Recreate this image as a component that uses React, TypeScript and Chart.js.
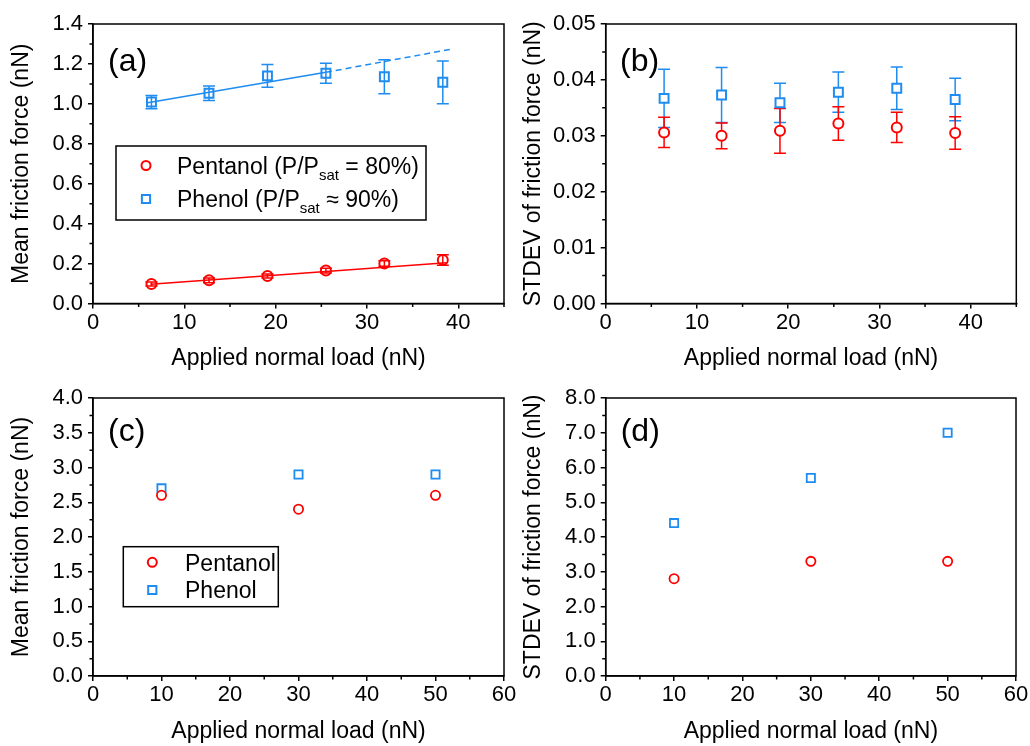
import React, { useEffect, useRef } from "react";
import { Chart, registerables } from "chart.js";

Chart.register(...registerables);

const FONT = '"Liberation Sans", Arial, Helvetica, sans-serif';
const RED = "#ff0000";
const BLUE = "#1e8cf0";

// ---------- Panel (a): mean friction force vs load ----------
const loadA = [6.4, 12.7, 19.1, 25.5, 31.9, 38.3];
const pentanolMeanA = [0.098, 0.116, 0.138, 0.165, 0.2, 0.218];
const pentanolMeanErrA = [0.01, 0.012, 0.01, 0.012, 0.014, 0.026];
const phenolMeanA = [1.009, 1.053, 1.14, 1.153, 1.136, 1.108];
const phenolMeanErrA = [0.033, 0.036, 0.057, 0.05, 0.085, 0.107];
const pentanolFitX = [6.3, 38.7];
const pentanolFitY = [0.096, 0.204];
const phenolFitX = [6.0, 25.5, 39.1];
const phenolFitY = [1.005, 1.158, 1.273];

// ---------- Panel (b): STDEV of friction force vs load ----------
const loadB = [6.4, 12.7, 19.1, 25.5, 31.9, 38.3];
const pentanolStdB = [0.0306, 0.03, 0.0309, 0.0322, 0.0315, 0.0305];
const pentanolStdErrB = [0.0027, 0.0023, 0.004, 0.003, 0.0027, 0.0029];
const phenolStdB = [0.0367, 0.0373, 0.0359, 0.0378, 0.0385, 0.0365];
const phenolStdErrB = [0.0052, 0.0049, 0.0035, 0.0036, 0.0038, 0.0038];

// ---------- Panels (c), (d) ----------
const loadCD = [10, 30, 50];
const pentanolMeanC = [2.6, 2.4, 2.6];
const phenolMeanC = [2.7, 2.9, 2.9];
const pentanolStdD = [2.8, 3.3, 3.3];
const phenolStdD = [4.4, 5.7, 7.0];

const xTitle = "Applied normal load (nN)";
const yTitleMean = "Mean friction force (nN)";
const yTitleStd = "STDEV of friction force (nN)";

type ErrSeries = { xs: number[]; ys: number[]; errs: number[]; color: string };
type LegendItem = { pre: string; sub?: string; post?: string; style: "circle" | "rect"; color: string };
type LegendSpec = {
  box: [number, number, number, number];
  markerX: number;
  textX: number;
  rows: number[];
  fontSize: number;
  items: LegendItem[];
};
type AxisSpec = { min: number; max: number; step: number; minor: number; decimals: number };
type PanelSpec = {
  id: string;
  label: string;
  labelX: number;
  labelBaseline: number;
  area: { left: number; top: number; right: number; bottom: number };
  regionLeft: number;
  regionBottom: number;
  x: AxisSpec;
  y: AxisSpec;
  yTitle: string;
  yTitleCenterX: number;
  datasets: any[];
  errors: ErrSeries[];
  legend?: LegendSpec;
};

const pts = (xs: number[], ys: number[]) => xs.map((x, i) => ({ x, y: ys[i] }));

function markerDs(xs: number[], ys: number[], style: "circle" | "rect", color: string, r: number, bw: number, fill: string) {
  return {
    data: pts(xs, ys),
    showLine: false,
    pointStyle: style,
    pointRadius: r,
    pointHoverRadius: r,
    pointBorderWidth: bw,
    pointBorderColor: color,
    pointBackgroundColor: fill,
    borderColor: color,
    backgroundColor: fill,
  };
}

function lineDs(xs: number[], ys: number[], color: string, dashFromIndex?: number) {
  return {
    data: pts(xs, ys),
    showLine: true,
    pointRadius: 0,
    pointHoverRadius: 0,
    borderColor: color,
    borderWidth: 1.5,
    tension: 0,
    segment:
      dashFromIndex === undefined
        ? undefined
        : { borderDash: (ctx: any) => (ctx.p0DataIndex >= dashFromIndex ? [6, 4] : undefined) },
  };
}

const specs: PanelSpec[] = [
  {
    id: "a",
    label: "(a)",
    labelX: 108,
    labelBaseline: 71,
    area: { left: 93, top: 24, right: 504, bottom: 303.5 },
    regionLeft: 0,
    regionBottom: 373,
    x: { min: 0, max: 45, step: 10, minor: 5, decimals: 0 },
    y: { min: 0, max: 1.4, step: 0.2, minor: 0.1, decimals: 1 },
    yTitle: yTitleMean,
    yTitleCenterX: 22,
    datasets: [
      markerDs(loadA, pentanolMeanA, "circle", RED, 5, 2, "rgba(0,0,0,0)"),
      markerDs(loadA, phenolMeanA, "rect", BLUE, 6.3, 2, "rgba(0,0,0,0)"),
      lineDs(pentanolFitX, pentanolFitY, RED),
      lineDs(phenolFitX, phenolFitY, BLUE, 1),
    ],
    errors: [
      { xs: loadA, ys: pentanolMeanA, errs: pentanolMeanErrA, color: RED },
      { xs: loadA, ys: phenolMeanA, errs: phenolMeanErrA, color: BLUE },
    ],
    legend: {
      box: [116, 146, 310, 74],
      markerX: 146,
      textX: 177,
      rows: [165.5, 199],
      fontSize: 23,
      items: [
        { pre: "Pentanol (P/P", sub: "sat", post: " = 80%)", style: "circle", color: RED },
        { pre: "Phenol (P/P", sub: "sat", post: " \u2248 90%)", style: "rect", color: BLUE },
      ],
    },
  },
  {
    id: "b",
    label: "(b)",
    labelX: 620,
    labelBaseline: 71,
    area: { left: 605.7, top: 24, right: 1016.3, bottom: 303.5 },
    regionLeft: 515,
    regionBottom: 373,
    x: { min: 0, max: 45, step: 10, minor: 5, decimals: 0 },
    y: { min: 0, max: 0.05, step: 0.01, minor: 0.005, decimals: 2 },
    yTitle: yTitleStd,
    yTitleCenterX: 534,
    datasets: [
      markerDs(loadB, pentanolStdB, "circle", RED, 5, 2, "#ffffff"),
      markerDs(loadB, phenolStdB, "rect", BLUE, 6.3, 2, "#ffffff"),
    ],
    errors: [
      { xs: loadB, ys: phenolStdB, errs: phenolStdErrB, color: BLUE },
      { xs: loadB, ys: pentanolStdB, errs: pentanolStdErrB, color: RED },
    ],
  },
  {
    id: "c",
    label: "(c)",
    labelX: 108,
    labelBaseline: 441,
    area: { left: 93, top: 398, right: 504, bottom: 676 },
    regionLeft: 0,
    regionBottom: 746,
    x: { min: 0, max: 60, step: 10, minor: 5, decimals: 0 },
    y: { min: 0, max: 4, step: 0.5, minor: 0.25, decimals: 1 },
    yTitle: yTitleMean,
    yTitleCenterX: 22,
    datasets: [
      markerDs(loadCD, pentanolMeanC, "circle", RED, 4.6, 1.8, "#ffffff"),
      markerDs(loadCD, phenolMeanC, "rect", BLUE, 5.8, 1.8, "#ffffff"),
    ],
    errors: [],
    legend: {
      box: [123.3, 546.7, 155, 60],
      markerX: 152.3,
      textX: 185,
      rows: [562.3, 590],
      fontSize: 23,
      items: [
        { pre: "Pentanol", style: "circle", color: RED },
        { pre: "Phenol", style: "rect", color: BLUE },
      ],
    },
  },
  {
    id: "d",
    label: "(d)",
    labelX: 620.7,
    labelBaseline: 441,
    area: { left: 605.7, top: 398, right: 1016, bottom: 676 },
    regionLeft: 515,
    regionBottom: 746,
    x: { min: 0, max: 60, step: 10, minor: 5, decimals: 0 },
    y: { min: 0, max: 8, step: 1, minor: 0.5, decimals: 1 },
    yTitle: yTitleStd,
    yTitleCenterX: 534,
    datasets: [
      markerDs(loadCD, pentanolStdD, "circle", RED, 4.6, 1.8, "#ffffff"),
      markerDs(loadCD, phenolStdD, "rect", BLUE, 5.8, 1.8, "#ffffff"),
    ],
    errors: [],
  },
];

const W = 1030;
const H = 746;
const TICK_FONT = { size: 22, family: FONT };
const TITLE_FONT = { size: 23, family: FONT };

function drawMarker(ctx: CanvasRenderingContext2D, style: string, x: number, y: number, r: number, color: string, bw: number) {
  ctx.save();
  ctx.strokeStyle = color;
  ctx.lineWidth = bw;
  ctx.beginPath();
  if (style === "circle") ctx.arc(x, y, r, 0, Math.PI * 2);
  else {
    const s = r * Math.SQRT1_2;
    ctx.rect(x - s, y - s, 2 * s, 2 * s);
  }
  ctx.stroke();
  ctx.restore();
}

function makePlugin(spec: PanelSpec) {
  return {
    id: "decor_" + spec.id,
    beforeDatasetsDraw(chart: any) {
      const ctx: CanvasRenderingContext2D = chart.ctx;
      const xs = chart.scales.x;
      const ys = chart.scales.y;
      ctx.save();
      ctx.lineWidth = 1.5;
      for (const e of spec.errors) {
        ctx.strokeStyle = e.color;
        e.xs.forEach((xv, i) => {
          const px = xs.getPixelForValue(xv);
          const pt = ys.getPixelForValue(e.ys[i] + e.errs[i]);
          const pb = ys.getPixelForValue(e.ys[i] - e.errs[i]);
          ctx.beginPath();
          ctx.moveTo(px, pt);
          ctx.lineTo(px, pb);
          ctx.moveTo(px - 6, pt);
          ctx.lineTo(px + 6, pt);
          ctx.moveTo(px - 6, pb);
          ctx.lineTo(px + 6, pb);
          ctx.stroke();
        });
      }
      ctx.restore();
    },
    afterDraw(chart: any) {
      const ctx: CanvasRenderingContext2D = chart.ctx;
      const a = chart.chartArea;
      const xs = chart.scales.x;
      const ys = chart.scales.y;
      ctx.save();
      ctx.strokeStyle = "#000";
      ctx.lineWidth = 1.5;
      ctx.strokeRect(a.left, a.top, a.right - a.left, a.bottom - a.top);
      // minor ticks
      ctx.beginPath();
      const isMajor = (v: number, step: number) => Math.abs(v / step - Math.round(v / step)) < 1e-6;
      for (let k = 0; spec.x.min + k * spec.x.minor <= spec.x.max + 1e-9; k++) {
        const v = spec.x.min + k * spec.x.minor;
        if (isMajor(v, spec.x.step)) continue;
        const px = xs.getPixelForValue(v);
        ctx.moveTo(px, a.bottom);
        ctx.lineTo(px, a.bottom + 3.5);
      }
      for (let k = 0; spec.y.min + k * spec.y.minor <= spec.y.max + 1e-9; k++) {
        const v = spec.y.min + k * spec.y.minor;
        if (isMajor(v, spec.y.step)) continue;
        const py = ys.getPixelForValue(v);
        ctx.moveTo(a.left - 3.5, py);
        ctx.lineTo(a.left, py);
      }
      ctx.stroke();
      // panel label
      ctx.fillStyle = "#000";
      ctx.font = `32px ${FONT}`;
      ctx.textAlign = "left";
      ctx.textBaseline = "alphabetic";
      ctx.fillText(spec.label, spec.labelX, spec.labelBaseline);
      // legend
      const lg = spec.legend;
      if (lg) {
        ctx.lineWidth = 1.5;
        ctx.strokeStyle = "#000";
        ctx.fillStyle = "#fff";
        ctx.fillRect(lg.box[0], lg.box[1], lg.box[2], lg.box[3]);
        ctx.strokeRect(lg.box[0], lg.box[1], lg.box[2], lg.box[3]);
        lg.items.forEach((it, i) => {
          const y = lg.rows[i];
          drawMarker(ctx, it.style, lg.markerX, y, it.style === "circle" ? 4.5 : 5.8, it.color, 2);
          const fs = lg.fontSize;
          const base = y + 0.36 * fs;
          ctx.fillStyle = "#000";
          ctx.font = `${fs}px ${FONT}`;
          let x = lg.textX;
          ctx.fillText(it.pre, x, base);
          x += ctx.measureText(it.pre).width;
          if (it.sub) {
            const sfs = Math.round(fs * 0.65);
            ctx.font = `${sfs}px ${FONT}`;
            ctx.fillText(it.sub, x, base + 6);
            x += ctx.measureText(it.sub).width;
            ctx.font = `${fs}px ${FONT}`;
          }
          if (it.post) ctx.fillText(it.post, x, base);
        });
      }
      ctx.restore();
    },
  };
}

function makeChart(canvas: HTMLCanvasElement, spec: PanelSpec) {
  const yWidth = spec.area.left - spec.regionLeft;
  const xHeight = spec.regionBottom - spec.area.bottom;
  const yTitlePadTop = spec.yTitleCenterX - spec.regionLeft - (TITLE_FONT.size * 1.2) / 2;
  const axisCommon = {
    type: "linear" as const,
    grid: { display: true, drawOnChartArea: false, drawTicks: true, tickLength: 5, color: "#000", lineWidth: 1.5 },
    border: { display: true, color: "#000", width: 1.5 },
  };
  return new Chart(canvas, {
    type: "scatter",
    data: { datasets: spec.datasets },
    options: {
      responsive: false,
      animation: false,
      devicePixelRatio: 1,
      events: [],
      layout: {
        padding: {
          left: spec.regionLeft,
          right: W - spec.area.right,
          top: spec.area.top,
          bottom: H - spec.regionBottom,
        },
      },
      plugins: { legend: { display: false }, tooltip: { enabled: false }, title: { display: false } },
      scales: {
        x: {
          ...axisCommon,
          position: "bottom",
          min: spec.x.min,
          max: spec.x.max,
          ticks: {
            stepSize: spec.x.step,
            includeBounds: false,
            autoSkip: false,
            maxRotation: 0,
            padding: 1,
            color: "#000",
            font: TICK_FONT,
            callback: (v: any) => Number(v).toFixed(spec.x.decimals),
          },
          title: { display: true, text: xTitle, color: "#000", font: TITLE_FONT, padding: { top: 0, bottom: 0.2 } },
          afterFit: (s: any) => {
            s.height = xHeight;
          },
        },
        y: {
          ...axisCommon,
          position: "left",
          min: spec.y.min,
          max: spec.y.max,
          ticks: {
            stepSize: spec.y.step,
            includeBounds: false,
            autoSkip: false,
            padding: 5,
            color: "#000",
            font: TICK_FONT,
            callback: (v: any) => Number(v).toFixed(spec.y.decimals),
          },
          title: { display: true, text: spec.yTitle, color: "#000", font: TITLE_FONT, padding: { top: yTitlePadTop, bottom: 0 } },
          afterFit: (s: any) => {
            s.width = yWidth;
          },
        },
      },
    } as any,
    plugins: [makePlugin(spec)],
  });
}

function Panel({ spec }: { spec: PanelSpec }) {
  const ref = useRef<HTMLCanvasElement>(null);
  useEffect(() => {
    if (!ref.current) return;
    const chart = makeChart(ref.current, spec);
    return () => chart.destroy();
  }, [spec]);
  return (
    <canvas
      ref={ref}
      width={W}
      height={H}
      style={{ position: "absolute", left: 0, top: 0, width: W, height: H, display: "block" }}
    />
  );
}

export default function App() {
  return (
    <div style={{ position: "absolute", left: 0, top: 0, width: W, height: H, background: "#fff", overflow: "hidden" }}>
      {specs.map((s) => (
        <Panel key={s.id} spec={s} />
      ))}
    </div>
  );
}
